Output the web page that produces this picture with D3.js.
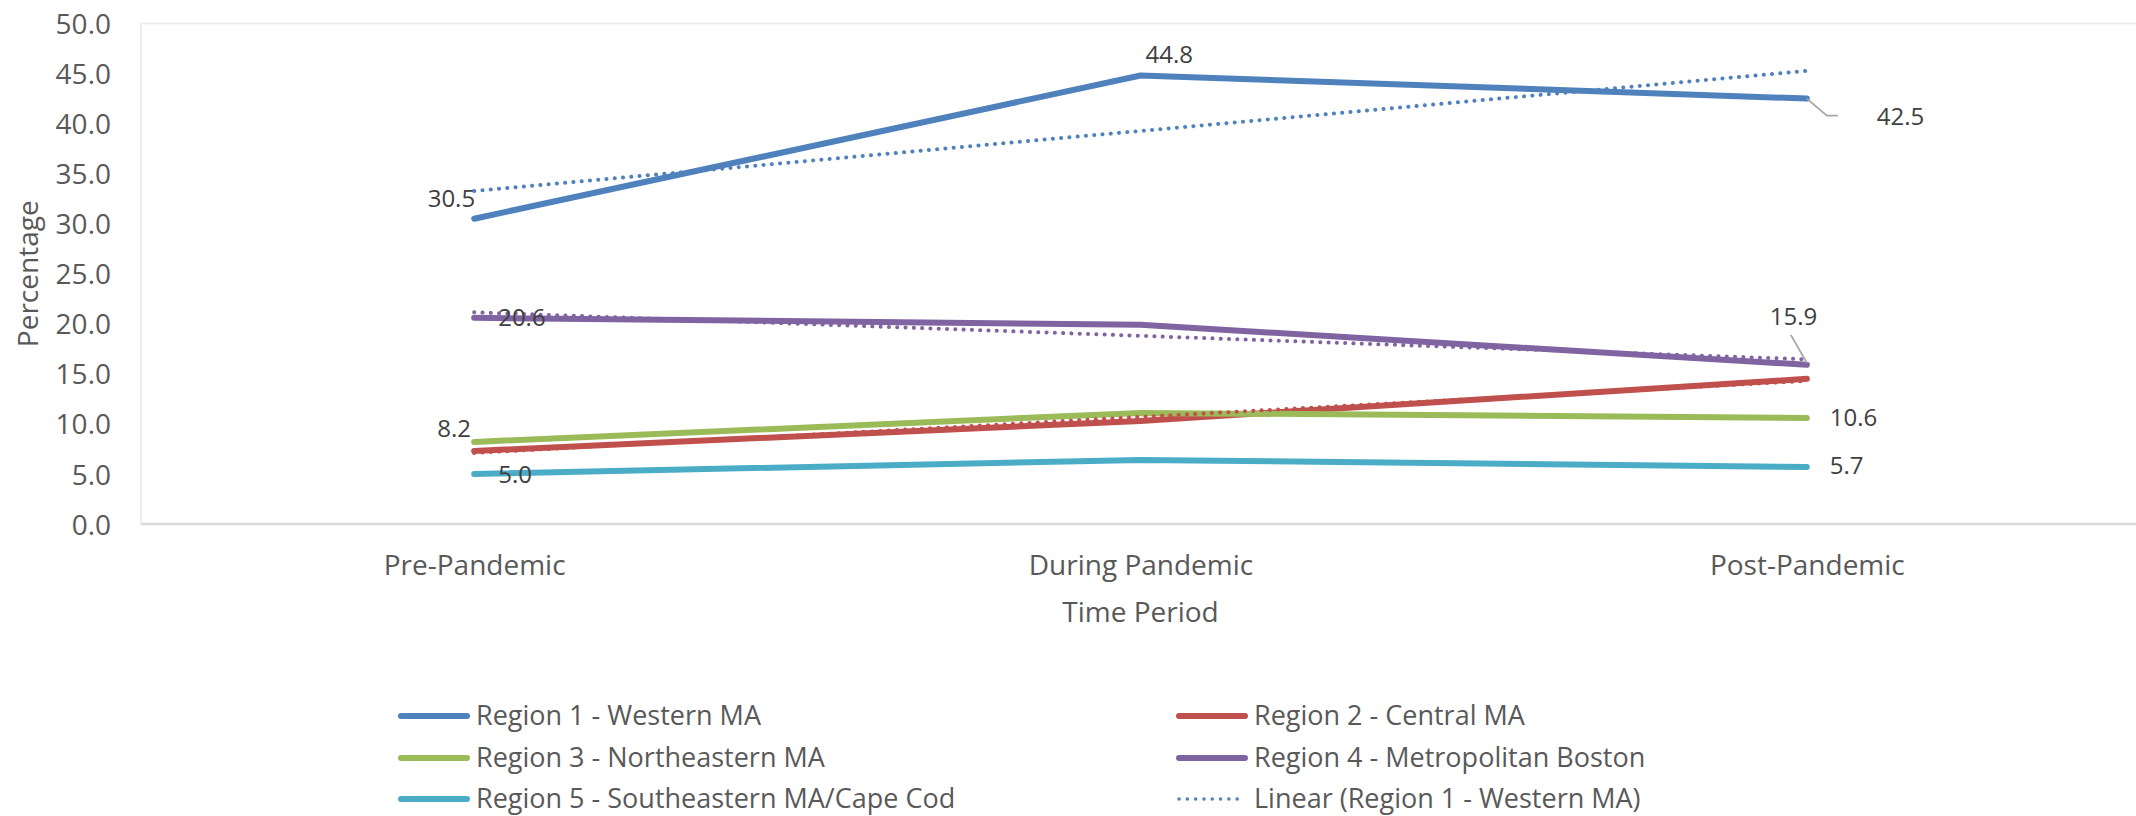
<!DOCTYPE html>
<html>
<head>
<meta charset="utf-8">
<script src="https://cdn.jsdelivr.net/npm/d3@7"></script>
<style>
  html, body { margin: 0; padding: 0; background: #fff; }
  svg { display: block; font-family: "Open Sans", "Noto Sans", sans-serif; }
</style>
</head>
<body>
<svg id="chart" width="2136" height="816"></svg>
<script>
// ---- data ----
const categories = ["Pre-Pandemic", "During Pandemic", "Post-Pandemic"];
const seriesNames = [
  "Region 1 - Western MA",
  "Region 2 - Central MA",
  "Region 3 - Northeastern MA",
  "Region 4 - Metropolitan Boston",
  "Region 5 - Southeastern MA/Cape Cod"
];
const region1 = [30.5, 44.8, 42.5];
const region2 = [7.3, 10.3, 14.5];
const region3 = [8.2, 11.1, 10.6];
const region4 = [20.6, 19.9, 15.9];
const region5 = [5.0, 6.4, 5.7];
const seriesValues = [region1, region2, region3, region4, region5];
const seriesColors = ["#4F81BD", "#C0504D", "#9BBB59", "#8064A2", "#4BACC6"];
const trendSeries = [0, 1, 3]; // series indexes with linear trendlines
const yTicks = [0, 5, 10, 15, 20, 25, 30, 35, 40, 45, 50];
// data labels: [series index, category index]
const dataLabels = [
  [0, 0], [0, 1], [0, 2],
  [3, 0], [3, 2],
  [2, 0], [2, 2],
  [4, 0], [4, 2]
];
const legendItems = [
  {name: "Region 1 - Western MA", color: "#4F81BD", dotted: false},
  {name: "Region 2 - Central MA", color: "#C0504D", dotted: false},
  {name: "Region 3 - Northeastern MA", color: "#9BBB59", dotted: false},
  {name: "Region 4 - Metropolitan Boston", color: "#8064A2", dotted: false},
  {name: "Region 5 - Southeastern MA/Cape Cod", color: "#4BACC6", dotted: false},
  {name: "Linear (Region 1 - Western MA)", color: "#4F81BD", dotted: true}
];

// ---- layout ----
const svg = d3.select("#chart");
const plot = {left: 141, right: 2140, top: 23.5, bottom: 524};

const x = d3.scalePoint().domain(categories).range([plot.left, plot.right]).padding(0.5);
const y = d3.scaleLinear().domain([0, 50]).range([plot.bottom, plot.top]);

// plot area border
svg.append("line").attr("x1", plot.left).attr("x2", 2136).attr("y1", plot.top).attr("y2", plot.top)
  .attr("stroke", "#ededed").attr("stroke-width", 2);
svg.append("line").attr("x1", plot.left).attr("x2", plot.left).attr("y1", plot.top).attr("y2", plot.bottom)
  .attr("stroke", "#ededed").attr("stroke-width", 2);

// y axis (labels only)
const yAxis = d3.axisLeft(y).tickValues(yTicks).tickFormat(d3.format(".1f")).tickSize(0).tickPadding(0);
const gy = svg.append("g").attr("transform", "translate(111,0)").call(yAxis);
gy.select(".domain").remove();
gy.selectAll("text").attr("font-size", 28).attr("fill", "#595959")
  .attr("font-family", "'Open Sans', sans-serif").attr("dy", "0.36em");

// x axis
const xAxis = d3.axisBottom(x).tickSize(0).tickPadding(0);
const gx = svg.append("g").attr("transform", `translate(0,${plot.bottom})`).call(xAxis);
gx.select(".domain").remove();
gx.selectAll("text").attr("font-size", 28).attr("fill", "#595959")
  .attr("font-family", "'Open Sans', sans-serif").attr("y", 51).attr("dy", 0);
svg.append("line").attr("x1", plot.left).attr("x2", 2136).attr("y1", plot.bottom).attr("y2", plot.bottom)
  .attr("stroke", "#d9d9d9").attr("stroke-width", 2.5);

// axis titles
svg.append("text").attr("x", x(categories[1])).attr("y", 622).attr("text-anchor", "middle")
  .attr("font-size", 28).attr("fill", "#595959").text("Time Period");
svg.append("text").attr("transform", `translate(27,${(plot.top + plot.bottom) / 2}) rotate(-90)`)
  .attr("text-anchor", "middle").attr("dominant-baseline", "central")
  .attr("font-size", 28).attr("fill", "#595959").text("Percentage");

// series lines
const line = d3.line().x((d, i) => x(categories[i])).y(d => y(d));
seriesValues.forEach((vals, s) => {
  svg.append("path").datum(vals).attr("d", line).attr("fill", "none")
    .attr("stroke", seriesColors[s]).attr("stroke-width", 6)
    .attr("stroke-linecap", "round").attr("stroke-linejoin", "round");
});

// linear trendlines (least squares over category index)
function linearFit(vals) {
  const xs = vals.map((d, i) => i + 1);
  const mx = d3.mean(xs), my = d3.mean(vals);
  const slope = d3.sum(xs.map((xv, i) => (xv - mx) * (vals[i] - my))) / d3.sum(xs.map(xv => (xv - mx) ** 2));
  return xs.map(xv => my + slope * (xv - mx));
}
trendSeries.forEach(s => {
  const fit = linearFit(seriesValues[s]);
  svg.append("path").datum(fit).attr("d", line).attr("fill", "none")
    .attr("stroke", seriesColors[s]).attr("stroke-width", 4)
    .attr("stroke-linecap", "round").attr("stroke-dasharray", "0.1 8.2");
});

// leader lines
const leaderColor = "#a6a6a6";
const p42 = [x(categories[2]), y(region1[2])];
svg.append("polyline")
  .attr("points", `${p42[0]},${p42[1]} ${p42[0] + 20},${p42[1] + 17} ${p42[0] + 31},${p42[1] + 17}`)
  .attr("fill", "none").attr("stroke", leaderColor).attr("stroke-width", 1.8);
const p159 = [x(categories[2]), y(region4[2])];
svg.append("line").attr("x1", p159[0]).attr("y1", p159[1] - 2).attr("x2", p159[0] - 16).attr("y2", p159[1] - 30)
  .attr("stroke", leaderColor).attr("stroke-width", 1.8);

// data labels (offsets relative to point, text baseline)
const labelOffsets = {
  "0,0": {dx: 1, dy: -12, anchor: "end"},
  "0,1": {dx: 5, dy: -13, anchor: "start"},
  "0,2": {dx: 70, dy: 26, anchor: "start"},
  "3,0": {dx: 24, dy: 8, anchor: "start"},
  "3,2": {dx: -37, dy: -40, anchor: "start"},
  "2,0": {dx: -37, dy: -5, anchor: "start"},
  "2,2": {dx: 23, dy: 8, anchor: "start"},
  "4,0": {dx: 24, dy: 9, anchor: "start"},
  "4,2": {dx: 23, dy: 7, anchor: "start"}
};
dataLabels.forEach(([s, c]) => {
  const v = seriesValues[s][c];
  const o = labelOffsets[`${s},${c}`];
  svg.append("text").attr("x", x(categories[c]) + o.dx).attr("y", y(v) + o.dy)
    .attr("text-anchor", o.anchor).attr("font-size", 24).attr("fill", "#404040")
    .text(d3.format(".1f")(v));
});

// legend
const legendCols = [398, 1176];
const legendRows = [716, 758, 799];
legendItems.forEach((item, i) => {
  const lx = legendCols[i % 2], ly = legendRows[Math.floor(i / 2)];
  svg.append("line").attr("x1", lx + 3).attr("x2", lx + 69).attr("y1", ly).attr("y2", ly)
    .attr("stroke", item.color).attr("stroke-width", item.dotted ? 3.5 : 6)
    .attr("stroke-linecap", "round")
    .attr("stroke-dasharray", item.dotted ? "0.1 8.2" : null);
  svg.append("text").attr("x", lx + 78).attr("y", ly + 9)
    .attr("font-size", 27).attr("fill", "#595959").text(item.name);
});
</script>
</body>
</html>
